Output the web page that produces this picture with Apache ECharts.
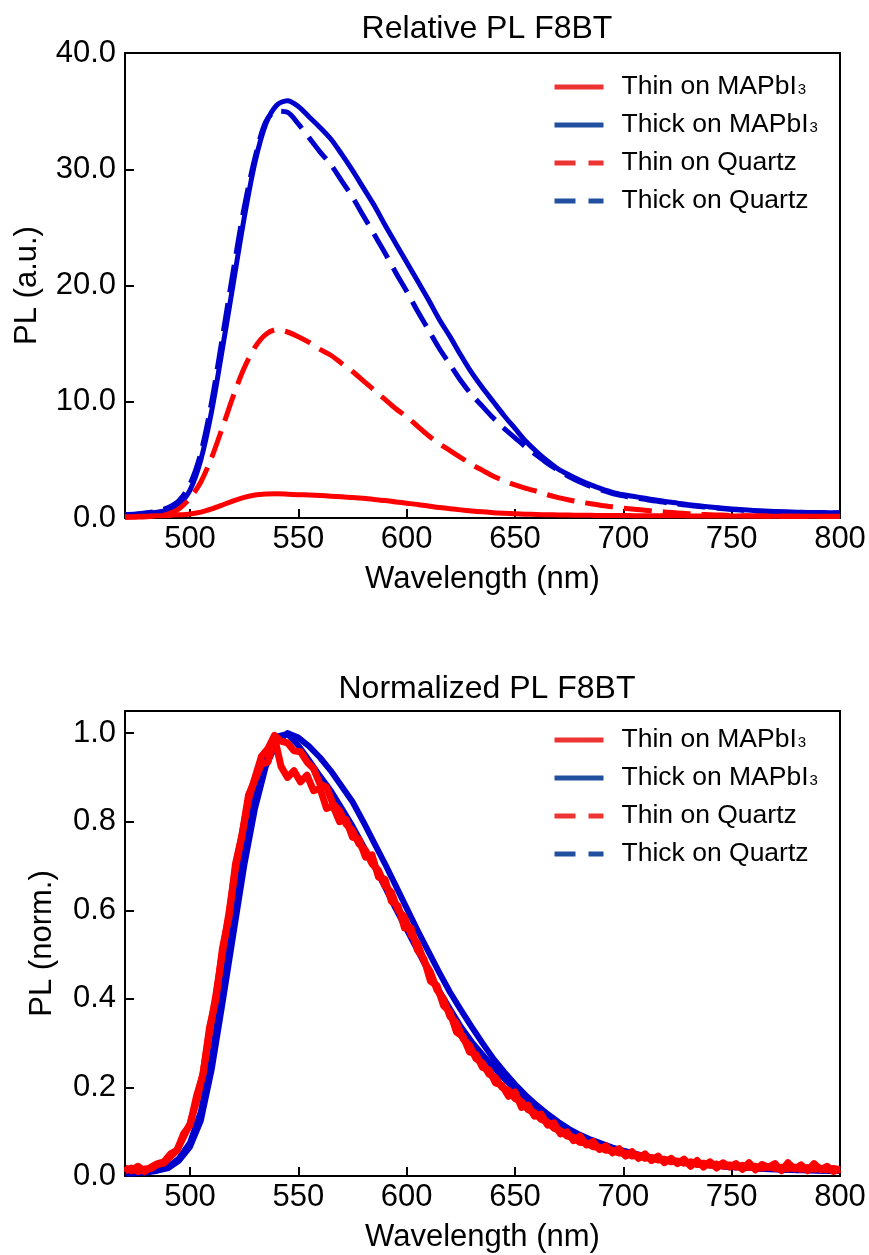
<!DOCTYPE html>
<html>
<head>
<meta charset="utf-8">
<script src="https://cdn.jsdelivr.net/npm/echarts@6/dist/echarts.min.js"></script>
<style>
html,body{margin:0;padding:0;background:#fff;}
#chart{width:869px;height:1255px;}
</style>
</head>
<body>
<div id="chart"></div>
<script>
// ---------- DATA ----------
const seriesNames = ['Thin on MAPbI3', 'Thick on MAPbI3', 'Thin on Quartz', 'Thick on Quartz'];
const titles = ['Relative PL F8BT', 'Normalized PL F8BT'];
const xName = 'Wavelength (nm)';
const yNames = ['PL (a.u.)', 'PL (norm.)'];

// Relative PL, 5 nm grid
const wlRel = [
470,475,480,485,490,495,500,505,510,515,
520,525,530,535,540,545,550,555,560,565,
570,575,580,585,590,595,600,605,610,615,
620,625,630,635,640,645,650,655,660,665,
670,675,680,685,690,695,700,705,710,715,
720,725,730,735,740,745,750,755,760,765,
770,775,780,785,790,795,800];

const thinMAPbI3Rel = [
0.10,0.13,0.16,0.19,0.22,0.27,0.35,0.50,0.78,1.12,
1.48,1.78,1.98,2.06,2.08,2.05,2.01,1.97,1.93,1.88,
1.82,1.76,1.69,1.60,1.50,1.38,1.27,1.16,1.03,0.90,
0.80,0.70,0.61,0.53,0.46,0.41,0.37,0.33,0.30,0.28,
0.26,0.25,0.24,0.23,0.22,0.21,0.21,0.20,0.20,0.19,
0.19,0.19,0.18,0.18,0.18,0.17,0.17,0.17,0.17,0.16,
0.16,0.16,0.16,0.15,0.15,0.15,0.15];

const thickMAPbI3Rel = [
0.25,0.30,0.40,0.50,0.70,1.20,2.40,5.00,9.20,14.6,
20.2,25.8,30.6,33.9,35.5,35.9,35.4,34.5,33.6,32.6,
31.3,29.9,28.4,26.9,25.2,23.6,22.0,20.4,18.8,17.1,
15.6,14.0,12.5,11.2,10.0,8.80,7.70,6.60,5.70,4.90,
4.20,3.70,3.25,2.85,2.50,2.20,2.00,1.85,1.70,1.55,
1.40,1.28,1.15,1.05,0.95,0.86,0.78,0.71,0.65,0.60,
0.56,0.53,0.50,0.48,0.47,0.46,0.45];

const thinQuartzRel = [
0.05,0.07,0.10,0.20,0.35,0.80,1.70,3.10,5.20,7.80,
10.5,12.9,14.7,15.8,16.2,16.0,15.6,15.1,14.5,14.0,
13.3,12.6,11.8,11.0,10.2,9.40,8.70,7.90,7.10,6.40,
5.80,5.20,4.60,4.10,3.60,3.20,2.85,2.55,2.30,2.00,
1.75,1.55,1.38,1.22,1.08,0.96,0.85,0.75,0.67,0.58,
0.50,0.43,0.37,0.32,0.28,0.25,0.22,0.20,0.18,0.17,
0.16,0.15,0.14,0.13,0.13,0.12,0.12];

const thickQuartzRel = [
0.30,0.35,0.45,0.60,0.90,1.50,2.90,5.60,10.0,15.6,
21.3,26.7,31.0,34.1,35.0,34.9,33.9,32.7,31.5,30.4,
29.0,27.6,26.0,24.4,22.8,21.1,19.5,17.8,16.2,14.6,
13.2,11.8,10.6,9.60,8.60,7.70,6.90,6.10,5.40,4.70,
4.10,3.55,3.10,2.70,2.40,2.10,1.90,1.75,1.60,1.45,
1.32,1.20,1.09,0.99,0.90,0.82,0.74,0.67,0.61,0.57,
0.53,0.50,0.47,0.45,0.44,0.43,0.42];

// Normalized PL: blue on 5 nm grid (wlRel), red on 3 nm grid
const thickMAPbI3Norm = [
0.005,0.006,0.008,0.012,0.018,0.035,0.066,0.125,0.240,0.390,
0.545,0.700,0.830,0.925,0.978,1.000,0.990,0.970,0.945,0.915,
0.880,0.845,0.800,0.752,0.705,0.655,0.605,0.555,0.507,0.460,
0.415,0.375,0.337,0.300,0.265,0.235,0.207,0.182,0.160,0.140,
0.122,0.106,0.093,0.082,0.073,0.064,0.057,0.051,0.045,0.040,
0.036,0.032,0.029,0.026,0.024,0.022,0.020,0.019,0.018,0.016,
0.015,0.014,0.014,0.013,0.013,0.012,0.012];

const thickQuartzNorm = [
0.007,0.008,0.010,0.014,0.021,0.040,0.075,0.145,0.265,0.425,
0.590,0.745,0.868,0.950,0.992,0.998,0.972,0.938,0.903,0.870,
0.830,0.790,0.745,0.700,0.652,0.603,0.557,0.510,0.463,0.418,
0.377,0.337,0.303,0.274,0.246,0.220,0.197,0.174,0.154,0.134,
0.117,0.100,0.088,0.077,0.068,0.060,0.053,0.048,0.043,0.039,
0.035,0.032,0.029,0.027,0.025,0.023,0.021,0.019,0.018,0.016,
0.015,0.014,0.013,0.013,0.012,0.012,0.012];

const wlNorm3 = [
470,473,476,479,482,485,488,491,494,497,
500,503,506,509,512,515,518,521,524,527,
530,533,536,539,542,545,548,551,554,557,
560,563,566,569,572,575,578,581,584,587,
590,593,596,599,602,605,608,611,614,617,
620,623,626,629,632,635,638,641,644,647,
650,653,656,659,662,665,668,671,674,677,
680,683,686,689,692,695,698,701,704,707,
710,713,716,719,722,725,728,731,734,737,
740,743,746,749,752,755,758,761,764,767,
770,773,776,779,782,785,788,791,794,797,
800];

const thinMAPbI3Norm = [
0.018,0.012,0.022,0.010,0.020,0.028,0.032,0.050,0.058,0.095,
0.115,0.180,0.230,0.335,0.400,0.515,0.585,0.705,0.770,0.860,
0.895,0.930,0.935,0.990,0.925,0.900,0.915,0.890,0.905,0.870,
0.875,0.830,0.835,0.800,0.805,0.765,0.760,0.720,0.725,0.675,
0.670,0.620,0.610,0.560,0.560,0.510,0.490,0.440,0.430,0.385,
0.370,0.325,0.315,0.280,0.275,0.245,0.240,0.210,0.205,0.180,
0.190,0.155,0.160,0.135,0.140,0.115,0.120,0.095,0.100,0.080,
0.090,0.070,0.078,0.060,0.068,0.052,0.062,0.045,0.055,0.040,
0.050,0.035,0.045,0.030,0.040,0.028,0.038,0.022,0.035,0.020,
0.032,0.018,0.030,0.020,0.028,0.015,0.030,0.014,0.026,0.020,
0.028,0.012,0.030,0.016,0.025,0.012,0.028,0.014,0.022,0.010,
0.016];

const thinQuartzNorm = [
0.012,0.018,0.010,0.016,0.017,0.026,0.029,0.044,0.058,0.088,
0.118,0.168,0.232,0.325,0.410,0.505,0.595,0.695,0.770,0.850,
0.900,0.948,0.965,0.995,0.982,0.978,0.960,0.958,0.935,0.920,
0.885,0.878,0.840,0.825,0.795,0.780,0.750,0.735,0.705,0.690,
0.655,0.640,0.600,0.585,0.545,0.525,0.485,0.460,0.420,0.400,
0.360,0.345,0.310,0.295,0.265,0.255,0.230,0.222,0.200,0.193,
0.175,0.168,0.150,0.143,0.128,0.122,0.108,0.102,0.090,0.087,
0.076,0.074,0.066,0.065,0.058,0.058,0.052,0.052,0.045,0.047,
0.040,0.042,0.036,0.038,0.032,0.034,0.029,0.032,0.026,0.029,
0.024,0.027,0.022,0.025,0.020,0.024,0.019,0.022,0.018,0.021,
0.017,0.020,0.016,0.020,0.015,0.019,0.015,0.018,0.014,0.017,
0.014];

// ---------- STYLE ----------
const FONT = 'Liberation Sans, Arial, Helvetica, sans-serif';
const RED = '#ff0000', BLUE = '#0000cc';
const LEG_RED = '#ee3333', LEG_BLUE = '#2250a0';

function zip(xs, ys) { return xs.map((x, i) => [x, ys[i]]); }

const gridL = 125, gridW = 715, gridH = 465;

function xAxisCfg(gi) {
  return {
    gridIndex: gi, type: 'value', min: 470, max: 800, minInterval: 50, maxInterval: 50,
    name: xName, nameLocation: 'middle', nameGap: 46,
    nameTextStyle: {fontFamily: FONT, fontSize: 31, color: '#000'},
    axisLine: {show: true, lineStyle: {color: '#000', width: 2}},
    axisTick: {show: true, inside: true, length: 9, lineStyle: {color: '#000', width: 2}},
    axisLabel: {fontFamily: FONT, fontSize: 31, color: '#000', margin: 6,
      formatter: v => (Math.abs(v % 50) < 1e-6 ? String(v) : '')},
    splitLine: {show: false}
  };
}
function yAxisCfg(gi, min, max, interval, dec, name, gap) {
  return {
    gridIndex: gi, type: 'value', min: min, max: max, interval: interval,
    name: name, nameLocation: 'middle', nameGap: gap,
    nameTextStyle: {fontFamily: FONT, fontSize: 31, color: '#000'},
    axisLine: {show: true, lineStyle: {color: '#000', width: 2}},
    axisTick: {show: true, inside: true, length: 9, lineStyle: {color: '#000', width: 2}},
    axisLabel: {fontFamily: FONT, fontSize: 31, color: '#000', margin: 9,
      formatter: v => {
        const r = Math.round(v / interval) * interval;
        return Math.abs(r - v) < 1e-6 ? v.toFixed(dec) : '';
      }},
    splitLine: {show: false}
  };
}

function legendCfg(top) {
  const sty = [
    {c: LEG_RED, t: 'solid'}, {c: LEG_BLUE, t: 'solid'},
    {c: LEG_RED, t: [21, 13]}, {c: LEG_BLUE, t: [21, 13]}
  ];
  return {
    orient: 'vertical', left: 552, top: top, padding: 0,
    itemWidth: 49, itemHeight: 14, itemGap: 8,
    selectedMode: false,
    textStyle: {fontFamily: FONT, fontSize: 26.5, color: '#000', lineHeight: 30, padding: [0, 0, 0, 13],
      rich: {s: {fontFamily: FONT, fontSize: 15, color: '#000', lineHeight: 15, verticalAlign: 'bottom', padding: [0, 0, 5, 1]}}},
    formatter: n => n.replace('MAPbI3', 'MAPbI{s|3}'),
    data: seriesNames.map((n, i) => ({
      name: n,
      itemStyle: {color: sty[i].c, opacity: 0},
      lineStyle: {color: sty[i].c, width: 5, type: sty[i].t, cap: 'butt', opacity: 1}
    }))
  };
}

function line(name, gi, data, color, dashed, width, z) {
  return {
    name: name, type: 'line', xAxisIndex: gi, yAxisIndex: gi,
    data: data, symbol: 'none', showSymbol: false, smooth: gi === 0 ? 0.3 : false,
    lineStyle: {color: color, width: width, type: dashed ? [28, 11] : 'solid', cap: 'butt', join: 'round'},
    itemStyle: {color: color}, z: z, silent: true, animation: false, clip: true
  };
}

const chart = echarts.init(document.getElementById('chart'), null, {renderer: 'canvas'});
chart.setOption({
  backgroundColor: '#fff',
  animation: false,
  title: [
    {text: titles[0], left: 482, top: 8, textAlign: 'center',
     textStyle: {fontFamily: FONT, fontSize: 32, fontWeight: 'normal', color: '#000'}},
    {text: titles[1], left: 482, top: 668, textAlign: 'center',
     textStyle: {fontFamily: FONT, fontSize: 32, fontWeight: 'normal', color: '#000'}}
  ],
  legend: [legendCfg(72), legendCfg(725)],
  grid: [
    {left: gridL, top: 53, width: gridW, height: gridH, show: true, borderColor: '#000', borderWidth: 2, backgroundColor: 'transparent'},
    {left: gridL, top: 711, width: gridW, height: gridH, show: true, borderColor: '#000', borderWidth: 2, backgroundColor: 'transparent'}
  ],
  xAxis: [xAxisCfg(0), xAxisCfg(1)],
  yAxis: [
    yAxisCfg(0, 0, 40, 10, 1, yNames[0], 82),
    yAxisCfg(1, 0, 1.05, 0.2, 1, yNames[1], 67)
  ],
  series: [
    line(seriesNames[1], 0, zip(wlRel, thickMAPbI3Rel), BLUE, false, 5, 2),
    line(seriesNames[3], 0, zip(wlRel, thickQuartzRel), BLUE, true, 5, 2),
    line(seriesNames[0], 0, zip(wlRel, thinMAPbI3Rel), RED, false, 5, 3),
    line(seriesNames[2], 0, zip(wlRel, thinQuartzRel), RED, true, 5, 3),
    line(seriesNames[1], 1, zip(wlRel, thickMAPbI3Norm), BLUE, false, 6, 2),
    line(seriesNames[3], 1, zip(wlRel, thickQuartzNorm), BLUE, false, 6, 2),
    line(seriesNames[2], 1, zip(wlNorm3, thinQuartzNorm), RED, false, 7, 3),
    line(seriesNames[0], 1, zip(wlNorm3, thinMAPbI3Norm), RED, false, 7, 3)
  ]
});
</script>
</body>
</html>
